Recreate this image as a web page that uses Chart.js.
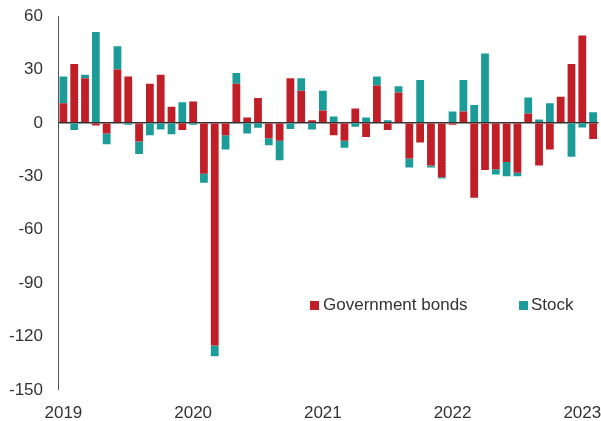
<!DOCTYPE html>
<html>
<head>
<meta charset="utf-8">
<script src="https://cdn.jsdelivr.net/npm/chart.js@4/dist/chart.umd.min.js"></script>
<style>
html,body{margin:0;padding:0;background:#fff;}
#wrap{width:601px;height:421px;}
</style>
</head>
<body>
<div id="wrap"><canvas id="c" width="601" height="421"></canvas></div>
<script>
const months = [];
for (let y = 2019; y <= 2023; y++) {
  for (let m = 1; m <= 12; m++) {
    if (y === 2023 && m > 2) break;
    months.push(y + '-' + String(m).padStart(2, '0'));
  }
}
const bonds = [11, 33, 25, -1.5, -6, 30, 26, -10.5, 22, 27, 9, -4,
               12, -28.6, -125, -7, 22, 3, 14, -8.6, -10, 25, 18, 1.5,
               7, -7, -10, 8, -8, 21, -4, 17, -20, -11, -24, -30.5,
               -1.1, 6.4, -42, -26.5, -26, -22, -28, 5.2, -24, -15, 14.6, 33,
               49, -9];
const stock = [15, -4, 2, 51, -6, 13, -1, -7, -7, -3.7, -6.4, 11.6,
               -1, -5, -6, -8, 6, -6, -2.8, -4, -11, -3.4, 7, -3.7,
               11, 3.6, -4, -2.2, 3, 5, 1.5, 3.6, -5, 24, -1, -0.8,
               6.4, 17.6, 10, 39, -3, -8, -2, 9, 1.9, 11, 0, -19,
               -2.6, 6];
const yTicks = [60, 30, 0, -30, -60, -90, -120, -150];
const seriesNames = ['Government bonds', 'Stock'];
const seriesColors = ['#C01F27', '#1C9C99'];

const FONT = 'Liberation Sans, Arial, sans-serif';
const TEXT = '#333333';

const legendPlugin = {
  id: 'insideLegend',
  afterDraw(chart) {
    const ctx = chart.ctx;
    const pos = [{sq: 310, tx: 323}, {sq: 519, tx: 531}];
    ctx.save();
    ctx.font = '17px ' + FONT;
    ctx.textBaseline = 'middle';
    chart.data.datasets.forEach((ds, i) => {
      ctx.fillStyle = ds.backgroundColor;
      ctx.fillRect(pos[i].sq, 301, 9, 9);
      ctx.fillStyle = TEXT;
      ctx.fillText(ds.label, pos[i].tx, 305.5);
    });
    ctx.restore();
  }
};

new Chart(document.getElementById('c'), {
  type: 'bar',
  data: {
    labels: months,
    datasets: [
      {label: seriesNames[0], data: bonds, backgroundColor: seriesColors[0], borderWidth: 0},
      {label: seriesNames[1], data: stock, backgroundColor: seriesColors[1], borderWidth: 0}
    ]
  },
  options: {
    responsive: false,
    animation: false,
    devicePixelRatio: 1,
    layout: {padding: {top: 16, right: 2.5, left: 0, bottom: 0}},
    plugins: {legend: {display: false}, tooltip: {enabled: false}},
    datasets: {bar: {categoryPercentage: 1, barPercentage: 0.72}},
    scales: {
      x: {
        stacked: true,
        grid: {display: false, drawTicks: false},
        border: {display: false},
        afterFit(s) { s.height = 31; s.paddingLeft = 0; s.paddingRight = 0; },
        ticks: {
          autoSkip: false, maxRotation: 0, padding: 13,
          color: TEXT, font: {family: FONT, size: 17},
          callback(v, i) { const l = months[i]; return l.endsWith('-01') ? l.slice(0, 4) : ''; }
        }
      },
      y: {
        stacked: true,
        min: -150, max: 60,
        z: 1,
        afterBuildTicks(s) { s.ticks = yTicks.map(v => ({value: v})); },
        afterFit(s) { s.width = 58; s.paddingTop = 0; s.paddingBottom = 0; },
        grid: {
          drawTicks: false,
          color: c => c.tick && c.tick.value === 0 ? '#333333' : 'rgba(0,0,0,0)',
          lineWidth: c => c.tick && c.tick.value === 0 ? 1.5 : 0
        },
        border: {display: true, color: '#555555', width: 1},
        ticks: {padding: 15, color: TEXT, font: {family: FONT, size: 17}}
      }
    }
  },
  plugins: [legendPlugin]
});
</script>
</body>
</html>
